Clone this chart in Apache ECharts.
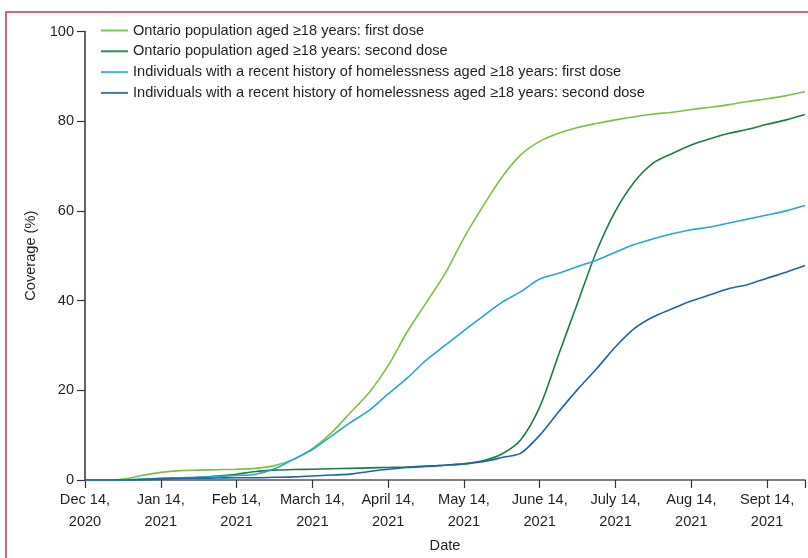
<!DOCTYPE html>
<html>
<head>
<meta charset="utf-8">
<script src="https://cdn.jsdelivr.net/npm/echarts@6/dist/echarts.min.js"></script>
<style>
html,body{margin:0;padding:0;background:#fff;}
#chart{width:808px;height:558px;}
</style>
</head>
<body>
<div id="chart"></div>
<script>
// x positions: months since Dec 14, 2020
var monthsSinceDec14 = [0,0.25,0.5,0.75,1,1.25,1.5,1.75,2,2.25,2.5,2.75,3,3.25,3.5,3.75,4,4.25,4.5,4.75,5,5.25,5.5,5.75,6,6.25,6.5,6.75,7,7.25,7.5,7.75,8,8.25,8.5,8.75,9,9.25,9.5];
var tickLabels = ["Dec 14,\n2020","Jan 14,\n2021","Feb 14,\n2021","March 14,\n2021","April 14,\n2021","May 14,\n2021","June 14,\n2021","July 14,\n2021","Aug 14,\n2021","Sept 14,\n2021"];
var seriesNames = [
  "Ontario population aged \u226518 years: first dose",
  "Ontario population aged \u226518 years: second dose",
  "Individuals with a recent history of homelessness aged \u226518 years: first dose",
  "Individuals with a recent history of homelessness aged \u226518 years: second dose"
];
var ontarioFirst = [0,0,0.2,1.0,1.7,2.1,2.2,2.3,2.4,2.6,3.2,4.6,7,10.5,15,19.5,25.5,33,39.5,46,54,61,67.5,72.5,75.5,77.3,78.6,79.5,80.3,81.0,81.6,82.0,82.6,83.1,83.7,84.4,85.0,85.7,86.6];
var ontarioSecond = [0,0,0,0.1,0.2,0.4,0.6,0.9,1.3,1.9,2.2,2.35,2.4,2.5,2.6,2.7,2.8,2.9,3.1,3.3,3.6,4.3,5.8,9.0,16.3,28,39.5,51,60,66.5,70.7,72.8,74.7,76.1,77.3,78.2,79.3,80.3,81.5];
var homelessFirst = [0,0,0.05,0.2,0.4,0.5,0.6,0.8,1.0,1.3,2.5,4.6,6.8,9.8,12.8,15.5,19.2,22.7,26.7,30,33.3,36.5,39.6,42,44.8,46.1,47.6,49.0,50.8,52.5,53.8,54.9,55.8,56.4,57.3,58.2,59.1,60.0,61.2];
var homelessSecond = [0,0,0,0.1,0.3,0.35,0.4,0.45,0.5,0.5,0.6,0.7,0.9,1.1,1.3,1.9,2.4,2.8,3.0,3.3,3.6,4.1,5.0,6.0,10,15.2,20.2,24.8,29.7,33.8,36.4,38.2,39.9,41.3,42.7,43.6,45.0,46.3,47.8];
var colors = ['#7cc242','#1b7f3e','#22a9d1','#1f63ad'];
var legendColors = ['#7dc855','#30905a','#3cb9dc','#3a78b8'];

function pairs(v){ return monthsSinceDec14.map(function(m,i){return [m,v[i]];}); }
var allValues = [ontarioFirst, ontarioSecond, homelessFirst, homelessSecond];
var FONT = "'Liberation Sans',sans-serif";
var chart = echarts.init(document.getElementById('chart'));
chart.setOption({
  animation:false,
  textStyle:{fontFamily:FONT},
  graphic:[{type:'rect',shape:{x:6,y:12,width:900,height:700},style:{fill:'none',stroke:'#c8325f',lineWidth:1.5},z:-1}],
  legend:{
    orient:'vertical', left:101, top:23, padding:0, itemWidth:27, itemHeight:2, itemGap:5.8,
    icon:'rect',
    textStyle:{fontFamily:FONT,fontSize:14.6,color:'#231f20',lineHeight:14},
    data: seriesNames.map(function(n,i){return {name:n,itemStyle:{color:legendColors[i]}};})
  },
  grid:{left:85,right:1,top:31.5,bottom:74,containLabel:false},
  xAxis:{
    type:'value', min:0, max:9.5, interval:1,
    name:'Date', nameLocation:'middle', nameGap:58,
    nameTextStyle:{fontFamily:FONT,fontSize:14.6,color:'#231f20'},
    axisLine:{lineStyle:{color:'#555',width:1.5}},
    axisTick:{length:8,lineStyle:{color:'#333',width:1.2}},
    axisLabel:{margin:9,fontFamily:FONT,fontSize:14.6,color:'#231f20',lineHeight:22,
      formatter:function(v){return tickLabels[Math.round(v)]||'';}},
    splitLine:{show:false}
  },
  yAxis:{
    type:'value', min:0, max:100, interval:20,
    name:'Coverage (%)', nameLocation:'middle', nameGap:44, nameRotate:90,
    nameTextStyle:{fontFamily:FONT,fontSize:14.6,color:'#231f20'},
    axisLine:{show:true,lineStyle:{color:'#333',width:1.5}},
    axisTick:{show:true,length:8,lineStyle:{color:'#333',width:1.2}},
    axisLabel:{margin:11,fontFamily:FONT,fontSize:14.6,color:'#231f20'},
    splitLine:{show:false}
  },
  series: allValues.map(function(v,i){
    return {name:seriesNames[i],type:'line',data:pairs(v),showSymbol:false,symbol:'none',smooth:0.3,
      lineStyle:{color:colors[i],width:1.6},itemStyle:{color:colors[i]},z:i===3?5:3};
  })
});
</script>
</body>
</html>
